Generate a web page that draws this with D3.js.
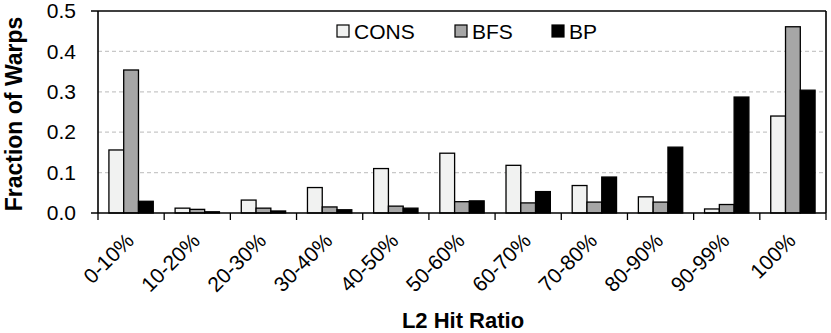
<!DOCTYPE html>
<html>
<head>
<meta charset="utf-8">
<script src="https://cdn.jsdelivr.net/npm/d3@7"></script>
<style>
  body { margin: 0; background: #fff; }
  svg { display: block; font-family: "Liberation Sans", Arial, sans-serif; }
</style>
</head>
<body>
<div id="chart"></div>
<script>
// categories and series
let categories = ["0-10%", "10-20%", "20-30%", "30-40%", "40-50%", "50-60%",
  "60-70%", "70-80%", "80-90%", "90-99%", "100%"];
let series_names = ["CONS", "BFS", "BP"];
let cons_values = [0.156, 0.012, 0.032, 0.063, 0.110, 0.148, 0.118, 0.068, 0.040, 0.010, 0.240];
let bfs_values = [0.354, 0.009, 0.012, 0.015, 0.017, 0.028, 0.025, 0.027, 0.027, 0.021, 0.461];
let bp_values = [0.029, 0.003, 0.005, 0.008, 0.012, 0.030, 0.053, 0.089, 0.163, 0.287, 0.304];
let y_ticks = [0, 0.1, 0.2, 0.3, 0.4, 0.5];

let series_values = [cons_values, bfs_values, bp_values];
let fills = ["#f1f2f1", "#a6a6a6", "#000000"];

let width = 831, height = 333;
let margin = {top: 11, right: 5, bottom: 120, left: 98};
let plot_w = width - margin.left - margin.right,
  plot_h = height - margin.top - margin.bottom;

let svg = d3.select("#chart").append("svg")
  .attr("width", width)
  .attr("height", height);

let g = svg.append("g").attr("transform", `translate(${margin.left},${margin.top})`);

let x0 = d3.scaleBand().domain(categories).range([0, plot_w])
  .paddingInner(0.33).paddingOuter(0.165);
let x1 = d3.scaleBand().domain(series_names).range([0, x0.bandwidth()]);
let y = d3.scaleLinear().domain([0, 0.5]).range([plot_h, 0]);

// dashed grid lines
g.selectAll(".grid")
  .data(y_ticks.filter(d => d > 0 && d < 0.5))
  .enter().append("line")
  .attr("x1", 0).attr("x2", plot_w)
  .attr("y1", d => y(d)).attr("y2", d => y(d))
  .attr("stroke", "#c8c8c8")
  .attr("stroke-width", 1.3)
  .attr("stroke-dasharray", "4,3");

// bars
let groups = g.selectAll(".cat")
  .data(categories)
  .enter().append("g")
  .attr("transform", d => `translate(${x0(d)},0)`);

groups.selectAll("rect")
  .data((d, i) => series_names.map((s, j) => ({s: s, v: series_values[j][i], j: j})))
  .enter().append("rect")
  .attr("x", d => x1(d.s))
  .attr("y", d => y(d.v))
  .attr("width", x1.bandwidth())
  .attr("height", d => plot_h - y(d.v))
  .attr("fill", d => fills[d.j])
  .attr("stroke", "#000")
  .attr("stroke-width", 1.3);

// y axis
let yAxis = g.append("g")
  .call(d3.axisLeft(y).tickValues(y_ticks).tickFormat(d3.format(".1f")).tickSize(0).tickPadding(22));
yAxis.select(".domain").remove();
yAxis.selectAll("text").attr("font-size", 21).attr("fill", "#000");

// x axis with boundary ticks
let xAxis = g.append("g").attr("transform", `translate(0,${plot_h})`)
  .call(d3.axisBottom(x0).tickSize(0).tickPadding(0));
xAxis.select(".domain").remove();
xAxis.selectAll("text")
  .attr("font-size", 21)
  .attr("fill", "#000")
  .attr("text-anchor", "end")
  .attr("dy", 0)
  .attr("transform", "translate(4,29) rotate(-45)");

let boundaries = categories.map(c => x0(c) - x0.step() * x0.paddingOuter()).concat([plot_w]);
g.selectAll(".xtick")
  .data(boundaries)
  .enter().append("line")
  .attr("x1", d => d).attr("x2", d => d)
  .attr("y1", plot_h).attr("y2", plot_h + 7)
  .attr("stroke", "#000").attr("stroke-width", 1.3);

// frame
g.append("line").attr("x1", -7).attr("x2", plot_w).attr("y1", 0).attr("y2", 0)
  .attr("stroke", "#000").attr("stroke-width", 1.6);
g.append("line").attr("x1", -7).attr("x2", plot_w).attr("y1", plot_h).attr("y2", plot_h)
  .attr("stroke", "#000").attr("stroke-width", 1.6);
g.append("line").attr("x1", 0).attr("x2", 0).attr("y1", 0).attr("y2", plot_h)
  .attr("stroke", "#000").attr("stroke-width", 1.6);
g.append("line").attr("x1", plot_w).attr("x2", plot_w).attr("y1", 0).attr("y2", plot_h)
  .attr("stroke", "#000").attr("stroke-width", 1.6);

// legend
let legend_x = [337, 455, 552];
let legend = svg.selectAll(".legend")
  .data(series_names)
  .enter().append("g")
  .attr("transform", (d, i) => `translate(${legend_x[i]},25)`);
legend.append("rect")
  .attr("width", 12).attr("height", 12)
  .attr("fill", (d, i) => fills[i])
  .attr("stroke", "#000").attr("stroke-width", 1.2);
legend.append("text")
  .attr("x", 17).attr("y", 13.5)
  .attr("font-size", 21)
  .text(d => d);

// axis titles
svg.append("text")
  .attr("transform", `translate(22,${margin.top + plot_h / 2 + 2}) rotate(-90)`)
  .attr("text-anchor", "middle")
  .attr("font-size", 23)
  .attr("font-weight", "bold")
  .text("Fraction of Warps");

svg.append("text")
  .attr("x", 463).attr("y", 328)
  .attr("text-anchor", "middle")
  .attr("font-size", 22)
  .attr("font-weight", "bold")
  .text("L2 Hit Ratio");
</script>
</body>
</html>
